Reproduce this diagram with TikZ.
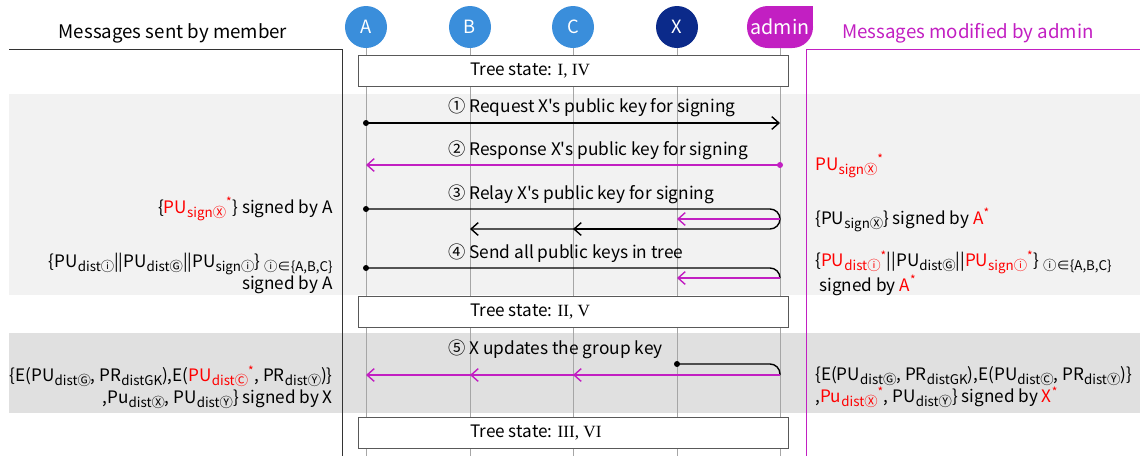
\documentclass[tikz,border=0pt]{standalone}
\usepackage{fontspec}
\usepackage{xcolor}
\usepackage{tikz}
\usetikzlibrary{arrows}
\usetikzlibrary{arrows.meta}
\usetikzlibrary{calc}
\newfontfamily\kfont{Noto Sans CJK KR}
\newfontfamily\rfont{Liberation Serif}
\definecolor{membercolor}{HTML}{3A8EDB}
\definecolor{xnodecolor}{HTML}{0B2A8A}
\definecolor{admincolor}{HTML}{C21FC2}
\definecolor{bandlight}{HTML}{F2F2F2}
\definecolor{banddark}{HTML}{E0E0E0}
\newcommand{\sbs}[1]{\raisebox{-0.45ex}{\fontsize{9.5}{9.5}\selectfont #1}}
\newcommand{\rst}{\textsuperscript{\color{red}*}}

\begin{document}
\begin{tikzpicture}[x=0.025cm,y=-0.025cm,
    font=\kfont\fontsize{12.2}{15.6}\selectfont,
    member/.style={circle,fill=membercolor,text=white,minimum size=1.05cm,inner sep=0pt,font=\kfont\fontsize{13}{13}\selectfont},
    lifeline/.style={black!35,line width=0.7pt},
    msg/.style={line width=1pt,-{Straight Barb[length=1.8mm,width=3.2mm]}},
    statebox/.style={draw=black!65,fill=white,minimum width=10.75cm,minimum height=0.775cm,line width=0.6pt}]
\useasboundingbox (0,0) rectangle (1140,456);
\coordinate (bottom) at (0,456);
%% grey bands
\fill[bandlight] (9,94) rectangle (1140,295);
\fill[banddark] (9,333) rectangle (1140,413);
%% members
\node[member] (A) at (366,27) {A};
\node[member] (B) at (470,27) {B};
\node[member] (C) at (573,27) {C};
\node[member,fill=xnodecolor] (X) at (677,27) {X};
\fill[admincolor] (780,6) rectangle (813,27);
\node[fill=admincolor,text=white,rounded corners=0.52cm,minimum width=1.65cm,minimum height=1.05cm,inner sep=0pt,font=\kfont\fontsize{14}{14}\selectfont] (admin) at (780,27) {admin};
\foreach \n in {A,B,C,X,admin}
    \draw[lifeline] (\n.south) -- (\n.south |- bottom);
%% headers
\begin{scope}[font=\kfont\fontsize{13.3}{15}\selectfont]
\node (hmember) at (173,33) {Messages sent by member};
\node[text=admincolor] (hadmin) at (968,33) {Messages modified by admin};
\end{scope}
\draw[black!80,line width=0.7pt] (9,49) -- (342,49) -- (342,456);
\draw[admincolor,line width=0.7pt] (1140,49) -- (806,49) -- (806,456);
%% tree states
\node[statebox] (ts1) at (573,71) {};
\node[anchor=west,inner sep=0pt] at (ts1.west -| B) {Tree state: {\rfont I, IV}};
\node[statebox] (ts2) at (573,312) {};
\node[anchor=west,inner sep=0pt] at (ts2.west -| B) {Tree state: {\rfont II, V}};
\node[statebox] (ts3) at (573,433) {};
\node[anchor=west,inner sep=0pt] at (ts3.west -| B) {Tree state: {\rfont III, VI}};
%% message rows
\coordinate (r1) at (0,123);
\coordinate (r2) at (0,165);
\coordinate (r3a) at (0,209);
\coordinate (r3b) at (0,219);
\coordinate (r3c) at (0,229);
\coordinate (r4a) at (0,268);
\coordinate (r4b) at (0,278);
\coordinate (r5a) at (0,364);
\coordinate (r5b) at (0,375);
\begin{scope}[font=\kfont\fontsize{12.3}{15}\selectfont]
\node[anchor=west,inner sep=0pt] (t1) at (448,107) {① Request X's public key for signing};
\node[anchor=west,inner sep=0pt] (t2) at (448,150) {② Response X's public key for signing};
\node[anchor=west,inner sep=0pt] (t3) at (448,194) {③ Relay X's public key for signing};
\node[anchor=west,inner sep=0pt] (t4) at (448,253) {④ Send all public keys in tree};
\node[anchor=west,inner sep=0pt] (t5) at (448,349) {⑤ X updates the group key};
\end{scope}
%% 1
\draw[msg] (A |- r1) -- (admin |- r1);
\fill (A |- r1) circle (0.75mm);
%% 2
\draw[msg,admincolor] (admin |- r2) -- (A |- r2);
\fill[admincolor] (admin |- r2) circle (0.75mm);
%% 3
\draw[msg,rounded corners=0.25cm] (A |- r3a) -- (admin |- r3a) -- (admin |- r3c) -- (B |- r3c);
\draw[msg] (X |- r3c) -- (C |- r3c);
\fill (A |- r3a) circle (0.75mm);
\draw[msg,admincolor] (admin |- r3b) -- (X |- r3b);
%% 4
\draw[line width=1pt,rounded corners=0.25cm] (A |- r4a) -- (admin |- r4a) -- (admin |- r4b);
\fill (A |- r4a) circle (0.75mm);
\draw[msg,admincolor] (admin |- r4b) -- (X |- r4b);
%% 5
\draw[line width=1pt,rounded corners=0.25cm] (X |- r5a) -- (admin |- r5a) -- (admin |- r5b);
\fill (X |- r5a) circle (0.75mm);
\foreach \n in {A,B,C}
    \draw[msg,admincolor] (admin |- r5b) -- (\n |- r5b);
%% left: sent by member
\node[anchor=east,inner sep=0pt] (l1) at (333,209) {\{{\color{red}PU\sbs{signⓍ}}\rst\} signed by A};
\node[anchor=east,inner sep=0pt,align=right] (l2) at (333,273) {\{PU\sbs{distⓘ}||PU\sbs{distⒼ}||PU\sbs{signⓘ}\}\ \sbs{ⓘ∈\{A,B,C\}}\\signed by A};
\node[anchor=east,inner sep=0pt,align=right] (l3) at (333,387) {\{E(PU\sbs{distⒼ}, PR\sbs{distGK}),E({\color{red}PU\sbs{distⒸ}}\rst, PR\sbs{distⓎ})\}\\,Pu\sbs{distⓍ}, PU\sbs{distⓎ}\} signed by X};
%% right: modified by admin
\node[anchor=west,inner sep=0pt] (m1) at (815,166) {{\color{red}PU\sbs{signⓍ}}\rst};
\node[anchor=west,inner sep=0pt] (m2) at (815,220) {\{PU\sbs{signⓍ}\} signed by {\color{red}A}\rst};
\node[anchor=west,inner sep=0pt,align=left] (m3) at (815,273) {\{{\color{red}PU\sbs{distⓘ}}\rst||PU\sbs{distⒼ}||{\color{red}PU\sbs{signⓘ}}\rst\}\ \sbs{ⓘ∈\{A,B,C\}}\\\hspace{3pt}signed by {\color{red}A}\rst};
\node[anchor=west,inner sep=0pt,align=left] (m4) at (815,387) {\{E(PU\sbs{distⒼ}, PR\sbs{distGK}),E(PU\sbs{distⒸ}, PR\sbs{distⓎ})\}\\,{\color{red}Pu\sbs{distⓍ}}\rst, PU\sbs{distⓎ}\} signed by {\color{red}X}\rst};
\end{tikzpicture}
\end{document}
